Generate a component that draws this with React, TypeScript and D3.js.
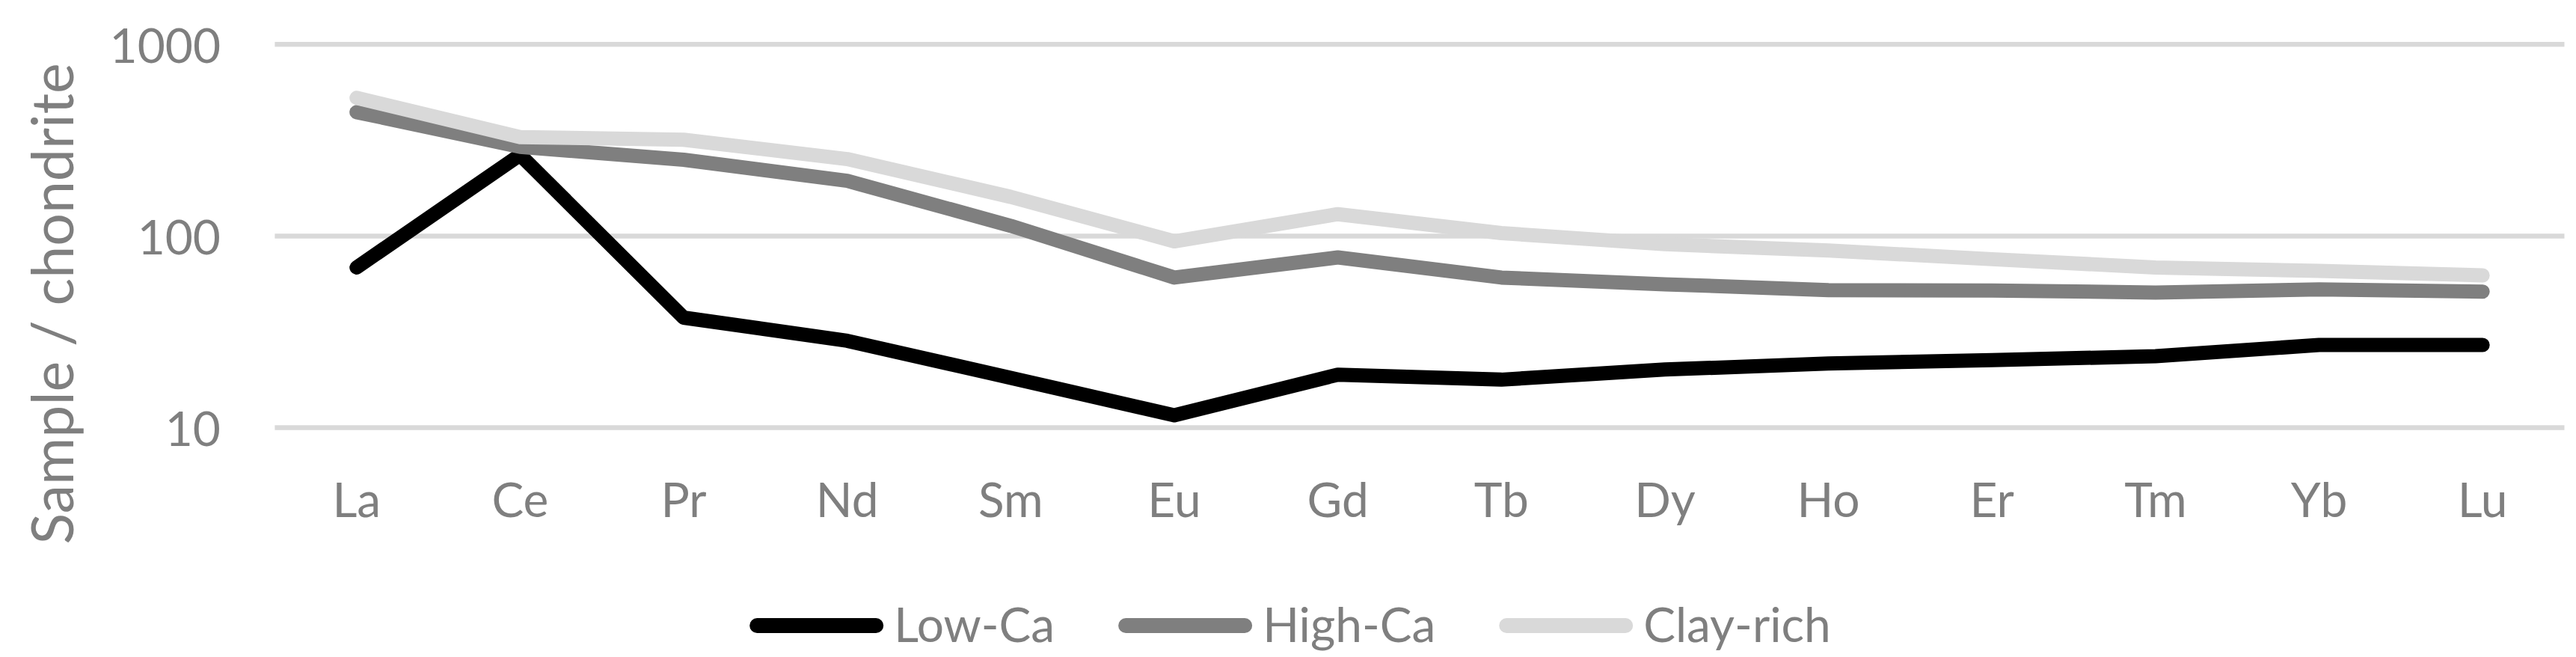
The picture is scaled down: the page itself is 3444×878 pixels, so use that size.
import React, { useEffect, useRef } from 'react';
import * as d3 from 'd3';

const categories = ['La', 'Ce', 'Pr', 'Nd', 'Sm', 'Eu', 'Gd', 'Tb', 'Dy', 'Ho', 'Er', 'Tm', 'Yb', 'Lu'];
const lowCa = [68.5, 265, 37.5, 28.4, 18.2, 11.6, 18.9, 17.8, 20.1, 21.6, 22.5, 23.6, 27.0, 27.0];
const highCa = [443, 292, 250, 194, 113, 60.7, 77.3, 60.7, 56, 52.2, 52, 50.7, 52.7, 51.3];
const clayRich = [526, 328, 318, 252, 160, 93.8, 130, 103.6, 90.6, 84, 75.7, 68.5, 65.8, 62.3];
const seriesNames = ['Low-Ca', 'High-Ca', 'Clay-rich'];
const seriesColors = ['#000000', '#7f7f7f', '#d9d9d9'];
const yTicks = [10, 100, 1000];
const yTitle = 'Sample / chondrite';

const W = 3444;
const H = 878;
const FONT = 'Lato, Calibri, Carlito, sans-serif';
const TEXT = '#7f7f7f';

export default function App() {
  const ref = useRef<SVGSVGElement | null>(null);

  useEffect(() => {
    const svg = d3.select(ref.current);
    svg.selectAll('*').remove();

    const left = 367.4, right = 3428.5, top = 59.3, bottom = 571.5;
    const x = d3.scaleBand<string>().domain(categories).range([left, right]).padding(0);
    const cx = (c: string) => (x(c) as number) + x.bandwidth() / 2;
    const y = d3.scaleLog().domain([10, 1000]).range([bottom, top]);

    // gridlines
    svg.append('g').selectAll('line').data(yTicks).join('line')
      .attr('x1', left).attr('x2', right)
      .attr('y1', d => y(d)).attr('y2', d => y(d))
      .attr('stroke', '#d9d9d9').attr('stroke-width', 6.5);

    // y tick labels
    svg.append('g').selectAll('text').data(yTicks).join('text')
      .attr('x', 295).attr('y', d => y(d))
      .attr('text-anchor', 'end').attr('dominant-baseline', 'central')
      .attr('font-family', FONT).attr('font-size', 64).attr('fill', TEXT)
      .text(d => String(d));

    // x labels
    svg.append('g').selectAll('text').data(categories).join('text')
      .attr('x', d => cx(d)).attr('y', 691)
      .attr('text-anchor', 'middle')
      .attr('font-family', FONT).attr('font-size', 64).attr('fill', TEXT)
      .text(d => d);

    // y title
    svg.append('text')
      .attr('transform', 'translate(98,406) rotate(-90)')
      .attr('text-anchor', 'middle')
      .attr('font-family', FONT).attr('font-size', 77).attr('fill', TEXT)
      .text(yTitle);

    // series
    const data = [lowCa, highCa, clayRich];
    const line = d3.line<number>()
      .x((_, i) => cx(categories[i]))
      .y(v => y(v));
    data.forEach((s, i) => {
      svg.append('path')
        .attr('d', line(s) as string)
        .attr('fill', 'none')
        .attr('stroke', seriesColors[i])
        .attr('stroke-width', 19)
        .attr('stroke-linecap', 'round')
        .attr('stroke-linejoin', 'round');
    });

    // legend
    const lg = svg.append('g');
    const lineLen = 159; // excluding caps
    const cap = 10;
    const gapText = 14;
    const gapItem = 85;
    const items = seriesNames.map((name, i) => {
      const g = lg.append('g');
      g.append('line')
        .attr('x1', cap).attr('x2', cap + lineLen)
        .attr('y1', 836).attr('y2', 836)
        .attr('stroke', seriesColors[i]).attr('stroke-width', 20)
        .attr('stroke-linecap', 'round');
      const t = g.append('text')
        .attr('x', cap * 2 + lineLen + gapText).attr('y', 858)
        .attr('font-family', FONT).attr('font-size', 64).attr('fill', TEXT)
        .text(name);
      const tw = (t.node() as SVGTextElement).getComputedTextLength();
      return { g, w: cap * 2 + lineLen + gapText + tw };
    });
    const total = d3.sum(items, d => d.w) + gapItem * (items.length - 1);
    let pos = 1725 - total / 2;
    items.forEach(it => {
      it.g.attr('transform', `translate(${pos},0)`);
      pos += it.w + gapItem;
    });
  }, []);

  return (
    <svg ref={ref} width={W} height={H} style={{ position: 'absolute', left: 0, top: 0, background: '#fff' }} />
  );
}
